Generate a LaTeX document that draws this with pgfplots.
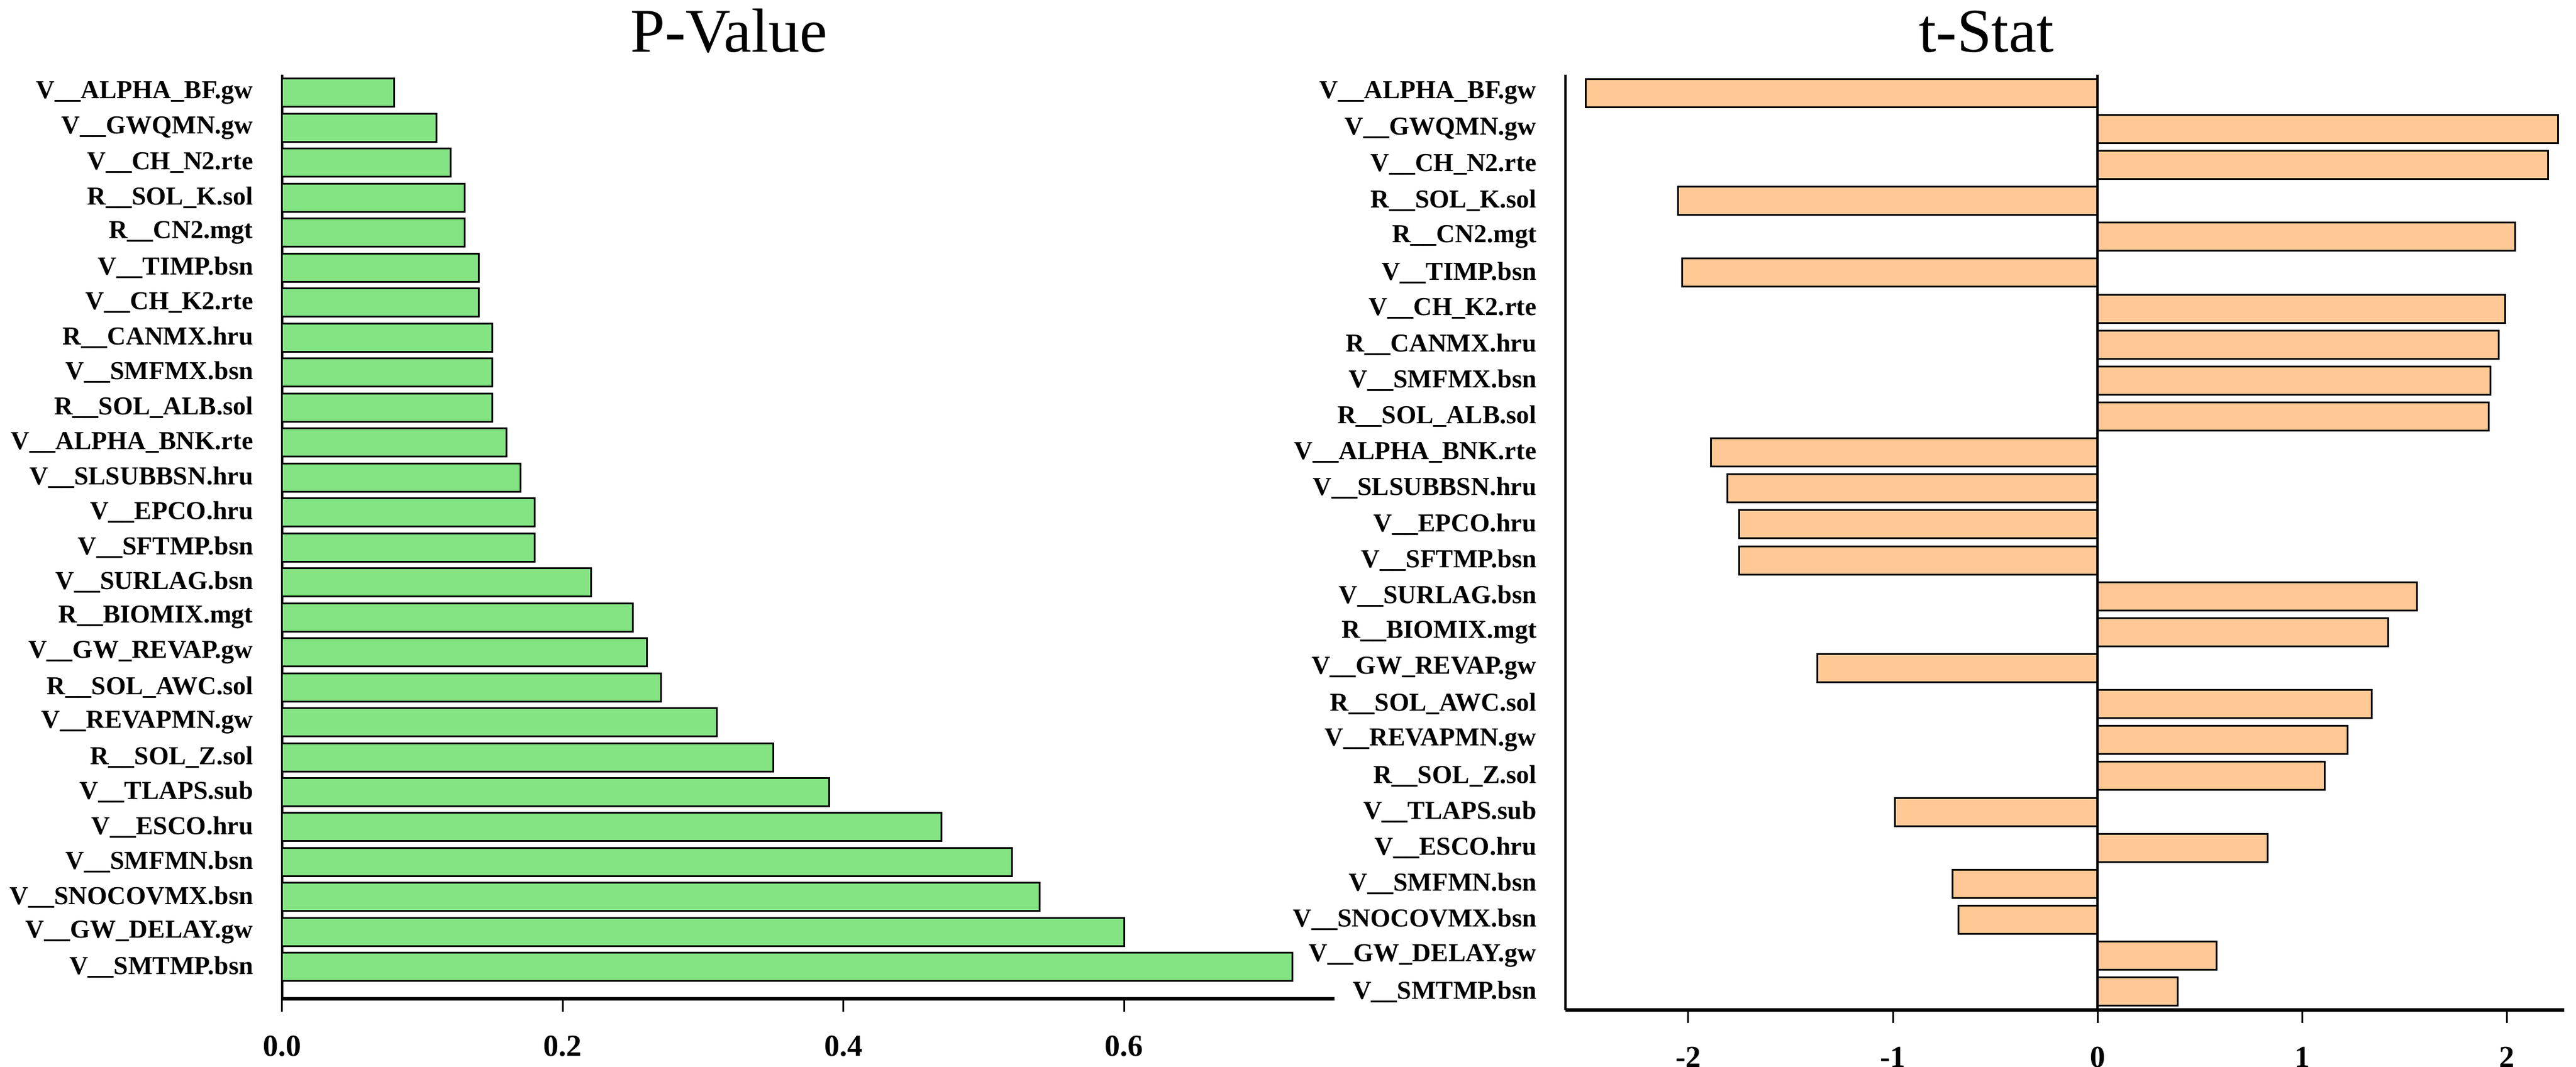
\documentclass[border=0pt]{standalone}
\usepackage{fontspec}
\setmainfont{Liberation Serif}
\usepackage{pgfplots}
\pgfplotsset{compat=1.18}

\definecolor{pgreen}{RGB}{132,227,131}
\definecolor{torange}{RGB}{255,200,148}

% shared look of both panels
\pgfplotsset{
  sens/.style={
    scale only axis,
    xbar,
    bar width=4.8pt,
    axis lines*=left,
    x axis line style={line width=0.55pt},
    y axis line style={line width=0.4pt},
    tick align=outside,
    major tick length=2.2pt,
    xtick style={black, line width=0.3pt},
    ytick style={draw=none},
    ytick={1,...,26},
    yticklabels={V\_\_SMTMP.bsn, V\_\_GW\_DELAY.gw, V\_\_SNOCOVMX.bsn, V\_\_SMFMN.bsn,
      V\_\_ESCO.hru, V\_\_TLAPS.sub, R\_\_SOL\_Z.sol, V\_\_REVAPMN.gw, R\_\_SOL\_AWC.sol,
      V\_\_GW\_REVAP.gw, R\_\_BIOMIX.mgt, V\_\_SURLAG.bsn, V\_\_SFTMP.bsn, V\_\_EPCO.hru,
      V\_\_SLSUBBSN.hru, V\_\_ALPHA\_BNK.rte, R\_\_SOL\_ALB.sol, V\_\_SMFMX.bsn,
      R\_\_CANMX.hru, V\_\_CH\_K2.rte, V\_\_TIMP.bsn, R\_\_CN2.mgt, R\_\_SOL\_K.sol,
      V\_\_CH\_N2.rte, V\_\_GWQMN.gw, V\_\_ALPHA\_BF.gw},
    yticklabel style={font=\fontsize{4.4}{5}\selectfont\bfseries, xshift=0.8pt},
    xticklabel style={font=\fontsize{5.2}{6}\selectfont\bfseries, yshift=-0.6pt},
  }
}

\begin{document}
\begin{tikzpicture}
\useasboundingbox (0,0) rectangle (438.2pt,-181.5pt);

\node[anchor=base, font=\fontsize{10.6}{12}\selectfont] at (124pt,-8.9pt) {P-Value};
\node[anchor=base, font=\fontsize{10.6}{12}\selectfont] at (337.9pt,-8.9pt) {t-Stat};

% P-Value panel
\begin{axis}[sens,
    at={(48pt,-12.7pt)}, anchor=north west,
    width=179pt, height=157.2pt,
    xmin=0, xmax=0.75, ymin=0.09, ymax=26.52,
    xtick={0,0.2,0.4,0.6}, xticklabels={0.0,0.2,0.4,0.6}]
\addplot[fill=pgreen, draw=black, line width=0.3pt] coordinates {
(0.72,1) (0.60,2) (0.54,3) (0.52,4) (0.47,5) (0.39,6) (0.35,7) (0.31,8) (0.27,9)
(0.26,10) (0.25,11) (0.22,12) (0.18,13) (0.18,14) (0.17,15) (0.16,16) (0.15,17)
(0.15,18) (0.15,19) (0.14,20) (0.14,21) (0.13,22) (0.13,23) (0.12,24) (0.11,25) (0.08,26)
};
\end{axis}

% t-Stat panel
\begin{axis}[sens,
    at={(266.3pt,-12.7pt)}, anchor=north west,
    width=169.9pt, height=159.1pt,
    xmin=-2.60, xmax=2.28, ymin=0.49, ymax=26.51,
    xtick={-2,-1,0,1,2}, xticklabels={-2,-1,0,1,2}]
\addplot[fill=torange, draw=black, line width=0.3pt] coordinates {
(0.39,1) (0.58,2) (-0.68,3) (-0.71,4) (0.83,5) (-0.99,6) (1.11,7) (1.22,8) (1.34,9)
(-1.37,10) (1.42,11) (1.56,12) (-1.75,13) (-1.75,14) (-1.81,15) (-1.89,16) (1.91,17)
(1.92,18) (1.96,19) (1.99,20) (-2.03,21) (2.04,22) (-2.05,23) (2.20,24) (2.25,25) (-2.50,26)
};
\draw[line width=0.4pt] (axis cs:0,0.49) -- (axis cs:0,26.51);
\end{axis}
\end{tikzpicture}
\end{document}
